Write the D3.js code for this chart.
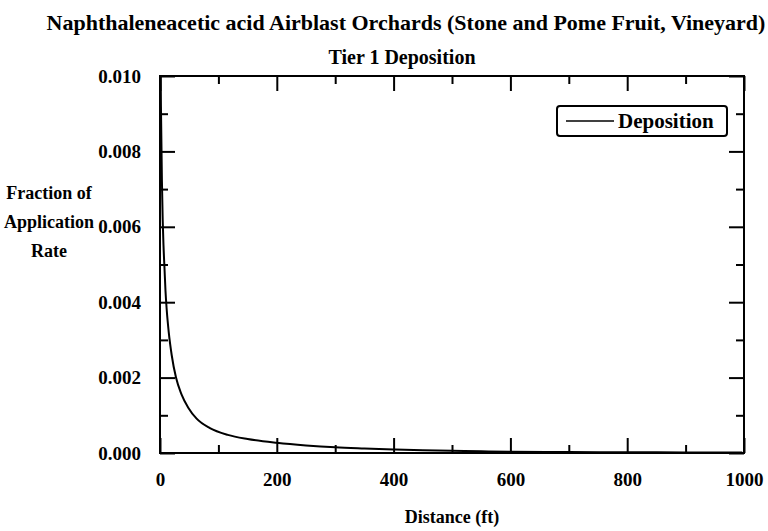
<!DOCTYPE html>
<html>
<head>
<meta charset="utf-8">
<script src="https://cdn.jsdelivr.net/npm/d3@7/dist/d3.min.js"></script>
<style>
  body { margin: 0; background: #fff; }
  text { font-family: "Liberation Serif", "Times New Roman", serif; font-weight: bold; fill: #000; }
</style>
</head>
<body>
<svg id="chart" width="768" height="531"></svg>
<script>
const titleText = "Naphthaleneacetic acid Airblast Orchards (Stone and Pome Fruit, Vineyard)";
const subtitleText = "Tier 1 Deposition";
const xLabel = "Distance (ft)";
const yLabelLines = ["Fraction of", "Application", "Rate"];
const seriesName = "Deposition";

const distance = [0, 1.6, 3.3, 4.6, 6, 7.7, 9.4, 11.5, 15, 20, 27.4, 37, 48.4, 62.7, 85.5, 116, 150, 200, 250, 300, 350, 400, 450, 500, 550, 600, 700, 800, 900, 997];
const deposition = [0.0125, 0.0092, 0.0072, 0.0062, 0.0055, 0.0049, 0.0043, 0.0038, 0.0032, 0.0026, 0.0020, 0.00155, 0.00120, 0.00091, 0.00066, 0.00048, 0.00037, 0.00027, 0.00020, 0.00015, 0.00012, 0.000095, 0.000075, 0.00006, 0.000045, 0.000035, 0.000025, 0.00002, 0.000015, 0.000012];

const xTicks = [0, 200, 400, 600, 800, 1000];
const xMinorTicks = [100, 300, 500, 700, 900];
const yTicks = [0, 0.002, 0.004, 0.006, 0.008, 0.010];
const yMinorTicks = [0.001, 0.003, 0.005, 0.007, 0.009];

const svg = d3.select("#chart");
const L = 160, R = 744, T = 76, B = 453;

const x = d3.scaleLinear().domain([0, 1000]).range([L, R]);
const y = d3.scaleLinear().domain([0, 0.010]).range([B, T]);

const fmtY = d3.format(".3f");
const fs = 19;

svg.append("defs").append("clipPath").attr("id", "clip")
  .append("rect").attr("x", L).attr("y", T).attr("width", R - L).attr("height", B - T);

function styleAxis(g) {
  g.selectAll(".domain").remove();
  g.selectAll(".tick line").attr("stroke", "#000").attr("stroke-width", 2);
  g.selectAll("text").style("font-size", fs + "px");
}

svg.append("g").attr("transform", `translate(0,${B})`)
  .call(d3.axisBottom(x).tickValues(xTicks).tickSize(-15).tickPadding(20).tickFormat(d3.format("d")))
  .call(styleAxis);
svg.append("g").attr("transform", `translate(0,${B})`)
  .call(d3.axisBottom(x).tickValues(xMinorTicks).tickSize(-8).tickFormat(""))
  .call(styleAxis);
svg.append("g").attr("transform", `translate(0,${T})`)
  .call(d3.axisTop(x).tickValues(xTicks).tickSize(-15).tickFormat(""))
  .call(styleAxis);
svg.append("g").attr("transform", `translate(0,${T})`)
  .call(d3.axisTop(x).tickValues(xMinorTicks).tickSize(-8).tickFormat(""))
  .call(styleAxis);

svg.append("g").attr("transform", `translate(${L},0)`)
  .call(d3.axisLeft(y).tickValues(yTicks).tickSize(-15).tickPadding(19).tickFormat(fmtY))
  .call(styleAxis);
svg.append("g").attr("transform", `translate(${L},0)`)
  .call(d3.axisLeft(y).tickValues(yMinorTicks).tickSize(-8).tickFormat(""))
  .call(styleAxis);
svg.append("g").attr("transform", `translate(${R},0)`)
  .call(d3.axisRight(y).tickValues(yTicks).tickSize(-15).tickFormat(""))
  .call(styleAxis);
svg.append("g").attr("transform", `translate(${R},0)`)
  .call(d3.axisRight(y).tickValues(yMinorTicks).tickSize(-8).tickFormat(""))
  .call(styleAxis);

svg.append("rect").attr("x", L).attr("y", T).attr("width", R - L).attr("height", B - T)
  .attr("fill", "none").attr("stroke", "#000").attr("stroke-width", 2);

const pts = distance.map((d, i) => [d, deposition[i]]);
svg.append("path").datum(pts)
  .attr("clip-path", "url(#clip)")
  .attr("fill", "none").attr("stroke", "#000").attr("stroke-width", 2)
  .attr("d", d3.line().x(d => x(d[0])).y(d => y(d[1])).curve(d3.curveMonotoneX));

svg.append("text").attr("x", 406).attr("y", 22).attr("text-anchor", "middle")
  .attr("dominant-baseline", "central").style("font-size", "22px").text(titleText);
svg.append("text").attr("x", 402).attr("y", 57).attr("text-anchor", "middle")
  .attr("dominant-baseline", "central").style("font-size", "20px").text(subtitleText);

svg.append("text").attr("x", 452).attr("y", 517).attr("text-anchor", "middle")
  .attr("dominant-baseline", "central").style("font-size", "18px").text(xLabel);

yLabelLines.forEach((t, i) => {
  svg.append("text").attr("x", 49).attr("y", 193 + i * 29).attr("text-anchor", "middle")
    .attr("dominant-baseline", "central").style("font-size", "18px").text(t);
});

const lg = svg.append("g");
lg.append("rect").attr("x", 557).attr("y", 106).attr("width", 170).attr("height", 30)
  .attr("rx", 3).attr("fill", "#fff").attr("stroke", "#000").attr("stroke-width", 2);
lg.append("line").attr("x1", 566).attr("x2", 614).attr("y1", 121).attr("y2", 121)
  .attr("stroke", "#000").attr("stroke-width", 1.5);
lg.append("text").attr("x", 618).attr("y", 121).attr("dominant-baseline", "central")
  .style("font-size", "21px").text(seriesName);
</script>
</body>
</html>
